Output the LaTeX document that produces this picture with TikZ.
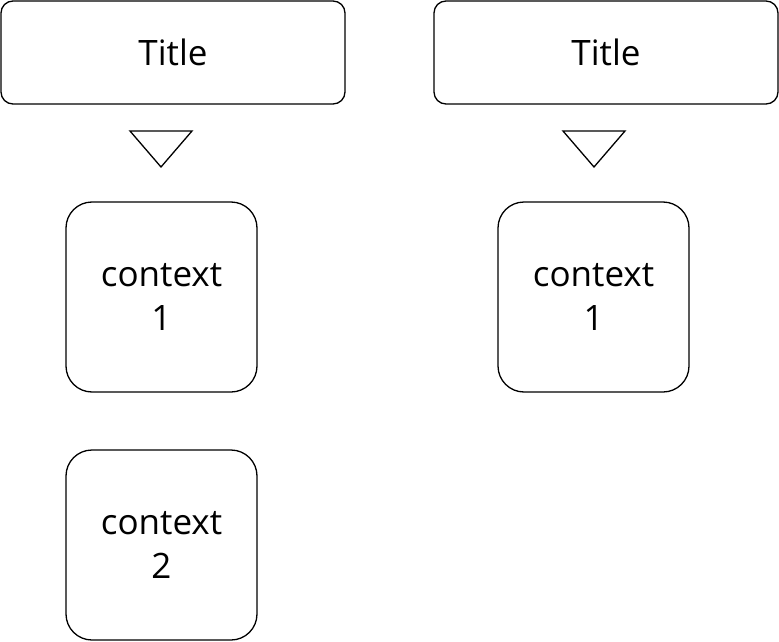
\documentclass[tikz,border=0pt]{standalone}
\usepackage{fontspec}
\setmainfont{Open Sans}
\usetikzlibrary{shapes.geometric}
\begin{document}
\begin{tikzpicture}[x=1pt,y=-1pt,
  titlebox/.style={draw, line width=1.3pt, rounded corners=12pt, minimum width=344pt, minimum height=103pt, inner sep=0pt, text depth=0pt, font=\fontsize{35}{44}\selectfont},
  ctxbox/.style={draw, line width=1.3pt, rounded corners=26pt, minimum width=191pt, minimum height=190pt, inner sep=0pt, align=center, font=\fontsize{35}{44}\selectfont},
  tri/.style={draw, line width=1.3pt}]
\useasboundingbox (0,0) rectangle (779,642);
\node[titlebox] (t1) at (173,52.5) {Title};
\node[titlebox] (t2) at (606,52.5) {Title};
\draw[tri] (130,131) -- (192,131) -- (161,167) -- cycle;
\draw[tri] (563,131) -- (625,131) -- (594,167) -- cycle;
\node[ctxbox] (c1) at (161.5,297) {context\\1};
\node[ctxbox] (c2) at (161.5,545) {context\\2};
\node[ctxbox] (c3) at (593.5,297) {context\\1};
\end{tikzpicture}
\end{document}
